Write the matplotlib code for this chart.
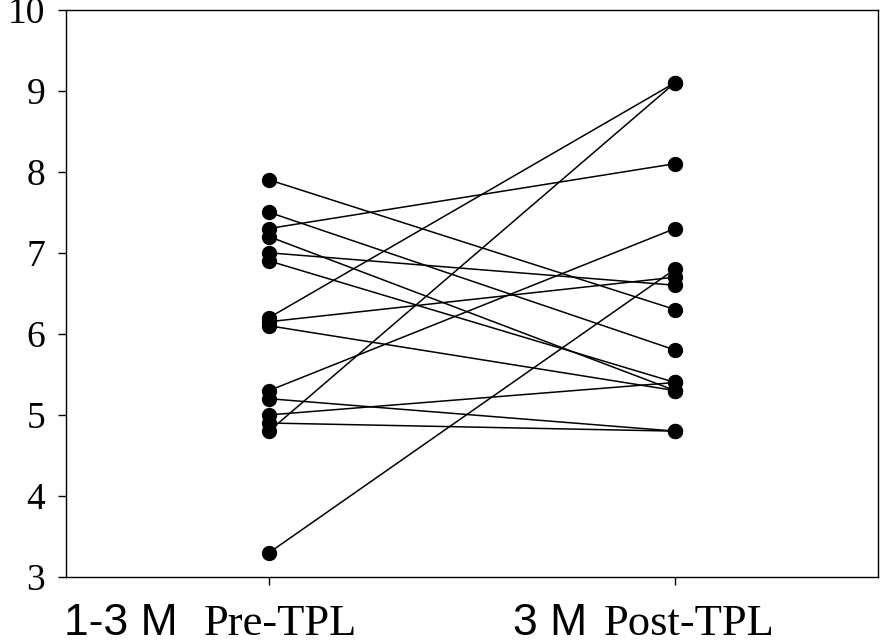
import matplotlib
matplotlib.use("Agg")
import matplotlib.pyplot as plt
import matplotlib.transforms as mtransforms

# paired values per subject: before and 3 months after
pre = [7.9, 7.5, 7.3, 7.2, 7.0, 6.9, 6.2, 6.15, 6.1, 5.3, 5.2, 5.0, 4.9, 4.8, 3.3]
post = [6.3, 5.8, 8.1, 5.3, 6.6, 5.4, 9.1, 6.7, 5.3, 7.3, 4.8, 5.4, 4.8, 9.1, 6.8]

yticks = [3, 4, 5, 6, 7, 8, 9, 10]
group_prefix = ["1-3 M", "3 M"]
group_suffix = ["Pre-TPL", "Post-TPL"]

fig = plt.figure(figsize=(8.8, 6.44), dpi=100)
ax = fig.add_axes([0.075, 0.104, 0.923, 0.881])

for a, b in zip(pre, post):
    ax.plot([1, 2], [a, b], color="black", lw=1.1, marker="o",
            markersize=10, markerfacecolor="black", markeredgecolor="black")

ax.set_xlim(0.5, 2.5)
ax.set_ylim(3, 10)
ax.set_yticks(yticks)
ax.set_yticklabels([str(t) for t in yticks], fontfamily="Liberation Serif", fontsize=27)
ax.set_xticks([1, 2])
ax.set_xticklabels([])
ax.tick_params(direction="out", length=6, width=1, color="black")
ax.tick_params(axis="y", pad=9)
for s in ax.spines.values():
    s.set_linewidth(1)

# group labels: sans-serif prefix followed by serif suffix
trans = mtransforms.blended_transform_factory(ax.transData, ax.transAxes)
prefix_x = [0.496, 1.600]
suffix_x = [0.838, 1.823]
for i in range(2):
    ax.text(prefix_x[i], -0.102, group_prefix[i], transform=trans,
            fontfamily="Liberation Sans", fontsize=32, ha="left", va="baseline")
    ax.text(suffix_x[i], -0.102, group_suffix[i], transform=trans,
            fontfamily="Liberation Serif", fontsize=32, ha="left", va="baseline")

fig.savefig("out.png", dpi=100)
